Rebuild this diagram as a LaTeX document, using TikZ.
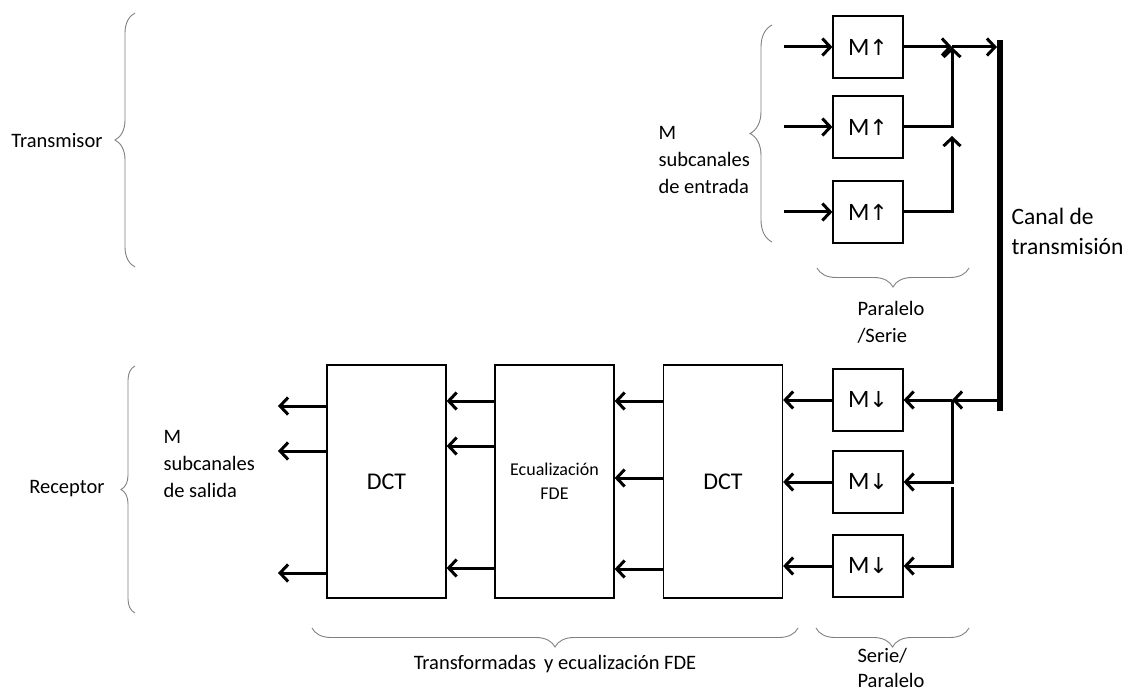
\documentclass[tikz,border=0pt]{standalone}
\usepackage{fontspec}
\setmainfont{Carlito}
\newfontfamily\arrowfont{DejaVu Sans}
\usetikzlibrary{arrows.meta,decorations.pathreplacing}

\begin{document}
\begin{tikzpicture}[x=1pt,y=-1pt,
    mbox/.style={draw,line width=1.2pt,minimum width=70pt,minimum height=62pt,inner sep=0pt,font=\fontsize{25}{28}\selectfont},
    tbox/.style={draw,line width=1.2pt,minimum width=119pt,minimum height=233pt,inner sep=0pt},
    sig/.style={line width=3pt,-{Straight Barb[length=8pt,width=17pt]}},
    brc/.style={draw=gray,line width=0.9pt,decorate,decoration={brace,amplitude=#1}},
    lbl/.style={font=\fontsize{20.5}{27}\selectfont,align=left}]
    \useasboundingbox (0,0) rectangle (1130,695);

    % transmisor
    \node[mbox] (up1) at (868,47) {M{\arrowfont\fontsize{22}{26}\selectfont ↑}};
    \node[mbox] (up2) at (868,127) {M{\arrowfont\fontsize{22}{26}\selectfont ↑}};
    \node[mbox] (up3) at (868,212) {M{\arrowfont\fontsize{22}{26}\selectfont ↑}};

    \coordinate (in1) at (784,47);
    \coordinate (in2) at (784,127);
    \coordinate (in3) at (784,212);
    \draw[sig] (in1) -- (up1.west);
    \draw[sig] (in2) -- (up2.west);
    \draw[sig] (in3) -- (up3.west);

    \coordinate (j1) at (952,47);
    \coordinate (j3) at (952,136);
    \draw[sig] (up1.east) -- (j1);
    \draw[sig] (up2.east) -| (j1);
    \draw[sig] (up3.east) -| (j3);

    % canal
    \coordinate (bt) at (1000,40);
    \coordinate (bb) at (1000,411);
    \draw[line width=6pt] (bt) -- (bb);
    \draw[sig,shorten >=3pt] (j1) -- (j1 -| bt);
    \node[font=\fontsize{23.5}{30}\selectfont,align=left,anchor=west] (canal) at (1008,231) {Canal de\\transmisión};

    % receptor
    \node[mbox] (dn1) at (868,400) {M{\arrowfont\fontsize{22}{26}\selectfont ↓}};
    \node[mbox] (dn2) at (868,482) {M{\arrowfont\fontsize{22}{26}\selectfont ↓}};
    \node[mbox] (dn3) at (868,566) {M{\arrowfont\fontsize{22}{26}\selectfont ↓}};

    \coordinate (k1) at (952,400);
    \coordinate (k2) at (952,487);
    \draw[sig,shorten <=3pt] (k1 -| bt) -- (k1);
    \draw[sig] (k1) -- (dn1.east);
    \draw[sig] (k1) |- (dn2.east);
    \draw[sig] (k2) |- (dn3.east);

    \node[tbox,font=\fontsize{24}{28}\selectfont] (dct2) at (723,481.5) {DCT};
    \node[tbox,font=\fontsize{18}{24}\selectfont,align=center] (ecu) at (554.5,481.5) {Ecualización\\FDE};
    \node[tbox,font=\fontsize{24}{28}\selectfont] (dct1) at (386.5,481.5) {DCT};

    \draw[sig] (dn1.west) -- (dn1.west -| dct2.east);
    \draw[sig] (dn2.west) -- (dn2.west -| dct2.east);
    \draw[sig] (dn3.west) -- (dn3.west -| dct2.east);

    \foreach \y in {401,478,569}
        \draw[sig] (dct2.west |- 0,\y) -- (ecu.east |- 0,\y);
    \foreach \y in {401,446,568}
        \draw[sig] (ecu.west |- 0,\y) -- (dct1.east |- 0,\y);
    \foreach \y [count=\i] in {406,451,573} {
        \coordinate (out\i) at (278,\y);
        \draw[sig] (dct1.west |- out\i) -- (out\i);
    }

    % llaves
    \draw[brc=20] (135,267) -- (135,13);
    \node[lbl,anchor=east] (tx) at (106,141) {Transmisor};
    \draw[brc=22] (772,242) -- (772,25);
    \node[lbl,anchor=west] (ent) at (655,160) {M\\subcanales\\de entrada};
    \draw[brc=19] (969,268) -- (817,268);
    \node[lbl,anchor=west] (ps) at (854,322) {Paralelo\\/Serie};

    \draw[brc=14] (135,613) -- (135,366);
    \node[lbl,anchor=east] (rx) at (108,489) {Receptor};
    \node[lbl,anchor=west] (sal) at (160,464) {M\\subcanales\\de salida};
    \draw[brc=19] (798,628) -- (312,628);
    \node[lbl] (tr) at (555,664) {Transformadas \,y ecualización FDE};
    \draw[brc=19] (969,628) -- (816,628);
    \node[lbl,font=\fontsize{20.5}{25}\selectfont,anchor=west] (sp) at (854,668) {Serie/\\Paralelo};
\end{tikzpicture}
\end{document}
